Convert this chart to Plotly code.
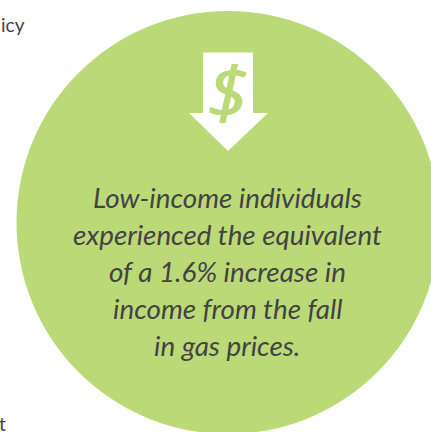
import plotly.graph_objects as go

GREEN = "#BCD978"
INK = "#434343"
FONT = "Lato"

caption_lines = ["Low-income individuals", "experienced the equivalent",
                 "of a 1.6% increase in", "income from the fall", "in gas prices."]
caption_y = [197, 234, 271, 308, 345]
arrow_x = [203, 253, 253, 268, 228, 189, 203, 203]
arrow_y = [52.5, 52.5, 113, 113, 151, 113, 113, 52.5]

fig = go.Figure()
fig.add_shape(type="circle", xref="x", yref="y", x0=16.5, x1=439.5, y0=11, y1=434,
              fillcolor=GREEN, line_width=0, layer="below")
fig.add_trace(go.Scatter(x=arrow_x, y=arrow_y, mode="lines", fill="toself",
                         fillcolor="white", line=dict(width=0, color="white"),
                         hoverinfo="skip"))

def label(x, y, text, size, color=INK, anchor="center", italic=True, font=FONT, shadow="none"):
    fig.add_annotation(x=x, y=y, text=text, showarrow=False,
                       xanchor=anchor, yanchor="middle", xref="x", yref="y",
                       font=dict(family=font, size=size, color=color, shadow=shadow,
                                 style="italic" if italic else "normal"))

for line, y in zip(caption_lines, caption_y):
    label(227, y, line, 27.8)
label(228, 91, "$", 72, GREEN, font="Open Sans",
      shadow=f"1px 0 0 {GREEN}, -1px 0 0 {GREEN}")
label(27, 24, "icy", 19, anchor="right", italic=False)
label(8, 423, "t", 19, anchor="right", italic=False)

fig.update_layout(width=431, height=432, margin=dict(l=0, r=0, t=0, b=0),
                  paper_bgcolor="white", plot_bgcolor="white", showlegend=False,
                  xaxis=dict(range=[0, 431], visible=False, fixedrange=True),
                  yaxis=dict(range=[432, 0], visible=False, fixedrange=True))
fig.write_html("out.html", config={"displayModeBar": False},
               post_script="document.body.style.margin='0';document.body.style.overflow='hidden';")
